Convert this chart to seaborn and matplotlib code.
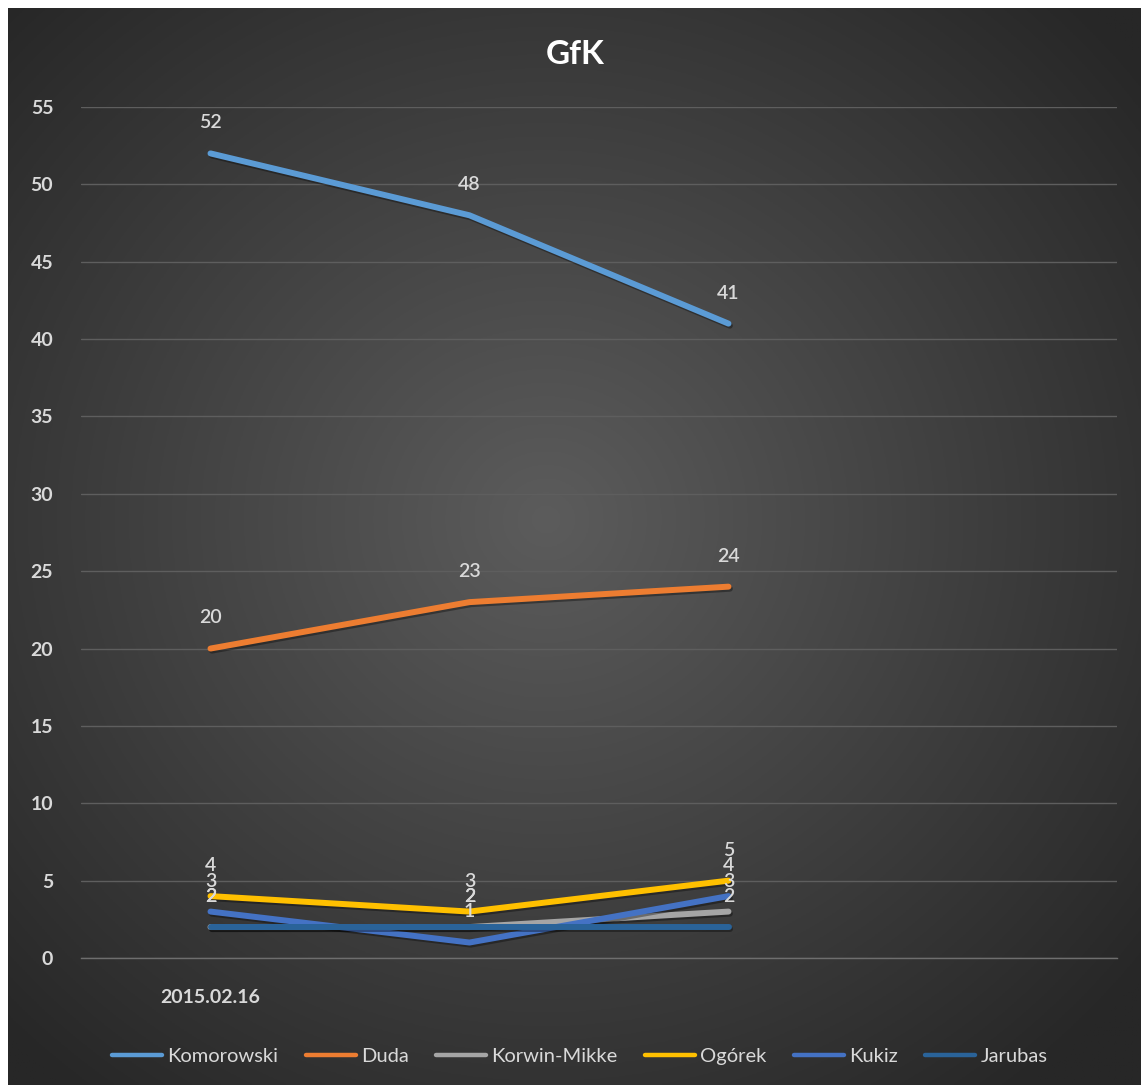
import numpy as np
import pandas as pd
import matplotlib
matplotlib.use("Agg")
import matplotlib.pyplot as plt
import matplotlib.patheffects as pe
import seaborn as sns

# poll data (GfK), one column per survey, 4th category slot left empty
dates      = ["2015.02.16", "", "", ""]
candidates = ["Komorowski", "Duda", "Korwin-Mikke", "Ogórek", "Kukiz", "Jarubas"]
komorowski = [52, 48, 41]
duda       = [20, 23, 24]
korwin     = [2, 2, 3]
ogorek     = [4, 3, 5]
kukiz      = [3, 1, 4]
jarubas    = [2, 2, 2]
colors     = ["#5B9BD5", "#ED7D31", "#A5A5A5", "#FFC000", "#4472C4", "#2A6399"]
y_ticks    = list(range(0, 60, 5))

series = [komorowski, duda, korwin, ogorek, kukiz, jarubas]
rows = []
for name, vals in zip(candidates, series):
    for i, v in enumerate(vals):
        rows.append({"pos": i, "value": v, "candidate": name})
df = pd.DataFrame(rows)

sns.set_theme(style="dark")
plt.rcParams["font.family"] = ["Lato", "DejaVu Sans"]
TXT = "#d9d9d9"

W, H = 1141, 1085
fig = plt.figure(figsize=(W / 100, H / 100), dpi=100, facecolor="white")

# dark radial gradient background
bg = fig.add_axes([8 / W, 0, 1 - 8 / W, 1 - 8 / H])
yy, xx = np.mgrid[-1:1:400j, -1:1:400j]
r = np.sqrt((xx + 0.05) ** 2 + (yy + 0.05) ** 2)
r = np.clip(r / 1.35, 0, 1)
c0, c1 = np.array([0x5c, 0x5c, 0x5c]) / 255, np.array([0x27, 0x27, 0x27]) / 255
img = c0[None, None, :] * (1 - r[..., None]) + c1[None, None, :] * r[..., None]
bg.imshow(img, aspect="auto", extent=(0, 1, 0, 1))
bg.set_axis_off()

ax = fig.add_axes([81 / W, 1 - 958 / H, (1117 - 81) / W, (958 - 107) / H])
ax.set_facecolor("none")

shadow = [pe.SimpleLineShadow(offset=(1, -1.5), shadow_color="black", alpha=0.35), pe.Normal()]
sns.lineplot(data=df, x="pos", y="value", hue="candidate", hue_order=candidates,
             palette=colors, linewidth=4.3, ax=ax, legend=True,
             path_effects=shadow, solid_capstyle="round", solid_joinstyle="round")

for name, vals in zip(candidates, series):
    for i, v in enumerate(vals):
        ax.annotate(str(v), (i, v), xytext=(0, 22), textcoords="offset points",
                    ha="center", va="center", color=TXT, fontsize=14,
                    fontweight="semibold")

ax.set_xlim(-0.5, 3.5)
ax.set_ylim(0, 55)
ax.set_yticks(y_ticks)
ax.set_yticklabels([str(t) for t in y_ticks], color=TXT, fontsize=14, fontweight="bold")
ax.set_xticks(range(len(dates)))
ax.set_xticklabels(dates, color=TXT, fontsize=14, fontweight="bold")
ax.set_xticks(np.arange(-0.5, 4, 1), minor=True)
ax.tick_params(axis="x", which="major", length=0, pad=22)
ax.tick_params(axis="x", which="minor", length=7, width=1, color="#6e6e6e", direction="out")
ax.tick_params(axis="y", length=0, pad=20)
ax.yaxis.grid(True, color="#5e5e5e", linewidth=1)
ax.xaxis.grid(False)
for s in ["top", "right", "left"]:
    ax.spines[s].set_visible(False)
ax.spines["bottom"].set_color("#6e6e6e")
ax.spines["bottom"].set_linewidth(1)
ax.set_xlabel("")
ax.set_ylabel("")

ax.legend_.remove()
handles, labels = ax.get_legend_handles_labels()
leg = fig.legend(handles, labels, loc="center", bbox_to_anchor=(0.508, 1 - 1056 / H),
                 ncol=6, frameon=False, fontsize=14.5, handlelength=2.5,
                 columnspacing=1.35, handletextpad=0.25)
for t in leg.get_texts():
    t.set_color(TXT)
for l in leg.get_lines():
    l.set_linewidth(3.2)
    l.set_path_effects([])

fig.text(575 / W, 1 - 55 / H, "GfK", ha="center", va="center",
         color="white", fontsize=24, fontweight="bold")

fig.savefig("out.png", dpi=100, facecolor="white")
